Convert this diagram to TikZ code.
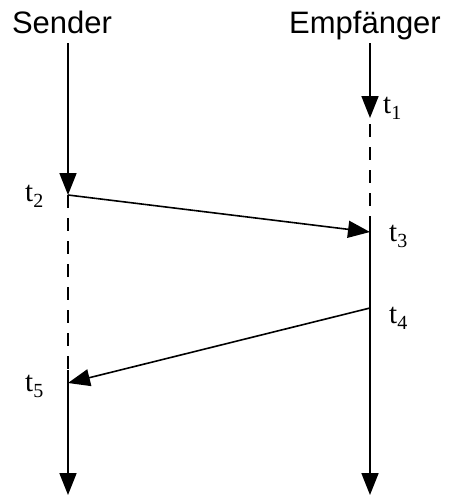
\documentclass[tikz,border=0pt]{standalone}
\usepackage{fontspec}
\setmainfont{Liberation Serif}
\newfontfamily\headfont{Liberation Sans}
\usetikzlibrary{arrows.meta}
\newcommand{\tsub}[1]{t\raisebox{-6pt}{\fontsize{20}{20}\selectfont #1}}
\begin{document}
\begin{tikzpicture}[x=1pt,y=-1pt,
  life/.style={line width=1.8pt},
  wait/.style={line width=1.8pt, dash pattern=on 13pt off 10pt},
  tip/.style={-{Triangle[length=22pt,width=17pt]}},
  msg/.style={line width=1.6pt,-{Triangle[length=22pt,width=17pt]}},
  head/.style={anchor=base, font=\headfont\fontsize{31}{31}\selectfont, inner sep=0pt},
  tlab/.style={anchor=base west, font=\fontsize{29}{29}\selectfont, inner sep=0pt}]
\useasboundingbox (0,0) rectangle (448,496);
\node[head] (snd) at (62,33) {Sender};
\node[head] (emp) at (365,33) {Empfänger};
\coordinate (s0) at (68,43);
\coordinate (s2) at (68,195);
\coordinate (s4) at (68,370);
\coordinate (s5) at (68,383);
\coordinate (send) at (68,495);
\coordinate (e0) at (370,43);
\coordinate (e1) at (370,118);
\coordinate (e1b) at (370,124);
\coordinate (e2) at (370,218);
\coordinate (e3) at (370,232);
\coordinate (e4) at (370,308);
\coordinate (eend) at (370,495);
\draw[life,tip] (s0) -- (s2);
\draw[wait] (s2) -- (s4);
\draw[life,tip] (s4) -- (send);
\draw[life,tip] (e0) -- (e1);
\draw[wait] (e1b) -- (e2);
\draw[life,tip] (e2) -- (eend);
\draw[msg] (s2) -- (e3);
\draw[msg] (e4) -- (s5);
\node[tlab] (t1) at (383,113) {\tsub{1}};
\node[tlab] (t2) at (25,201) {\tsub{2}};
\node[tlab] (t3) at (389,241) {\tsub{3}};
\node[tlab] (t4) at (389,323) {\tsub{4}};
\node[tlab] (t5) at (25,391) {\tsub{5}};
\end{tikzpicture}
\end{document}
